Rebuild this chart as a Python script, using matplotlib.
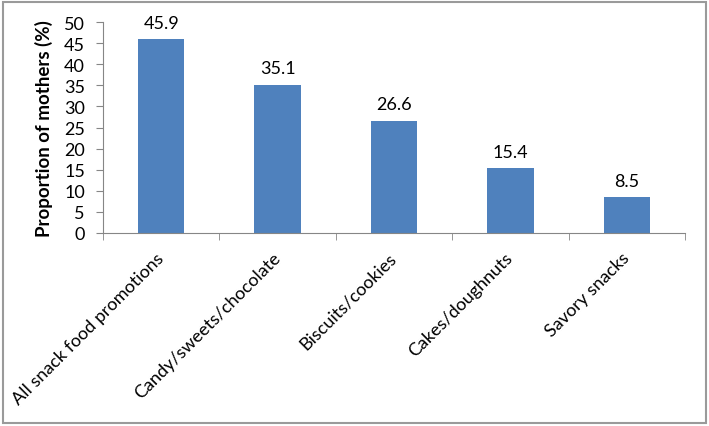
import matplotlib.pyplot as plt
import matplotlib.patches as patches
import numpy as np

categories = ['All snack food promotions', 'Candy/sweets/chocolate', 'Biscuits/cookies',
              'Cakes/doughnuts', 'Savory snacks']
values = [45.9, 35.1, 26.6, 15.4, 8.5]
y_ticks = [0, 5, 10, 15, 20, 25, 30, 35, 40, 45, 50]

plt.rcParams['font.family'] = ['Lato', 'DejaVu Sans']

fig = plt.figure(figsize=(7.09, 4.27), dpi=100)
ax = fig.add_axes([103 / 709, 1 - 234 / 427, (685 - 103) / 709, (234 - 23) / 427])

x = np.arange(len(categories))
ax.bar(x, values, width=0.4, color='#4F81BD', zorder=2)
for xi, v in zip(x, values):
    ax.text(xi, v + 2.0, f'{v}', ha='center', va='bottom', fontsize=13)

ax.set_xlim(-0.5, len(categories) - 0.5)
ax.set_ylim(0, 50)
ax.set_yticks(y_ticks)
ax.set_yticklabels([str(t) for t in y_ticks], fontsize=13)
ax.set_ylabel('Proportion of mothers (%)', fontsize=13.5, fontweight='bold', labelpad=8)

# category labels at bar centres, tick marks at the boundaries
ax.set_xticks(x)
ax.set_xticklabels(categories, rotation=45, ha='right', va='center',
                   rotation_mode='anchor', fontsize=13)
ax.tick_params(axis='x', length=0, pad=16)
ax.set_xticks(np.arange(-0.5, len(categories)), minor=True)
ax.tick_params(axis='x', which='minor', length=5, color='#868686')
ax.tick_params(axis='y', length=5, color='#868686', pad=8)

for s in ['top', 'right']:
    ax.spines[s].set_visible(False)
for s in ['left', 'bottom']:
    ax.spines[s].set_color('#868686')

# outer chart frame
fig.patches.append(patches.Rectangle((3 / 709, 3 / 427), 703 / 709, 421 / 427,
                                     transform=fig.transFigure, fill=False,
                                     edgecolor='#9a9a9a', linewidth=1.5))

plt.savefig('out.png', dpi=100)
